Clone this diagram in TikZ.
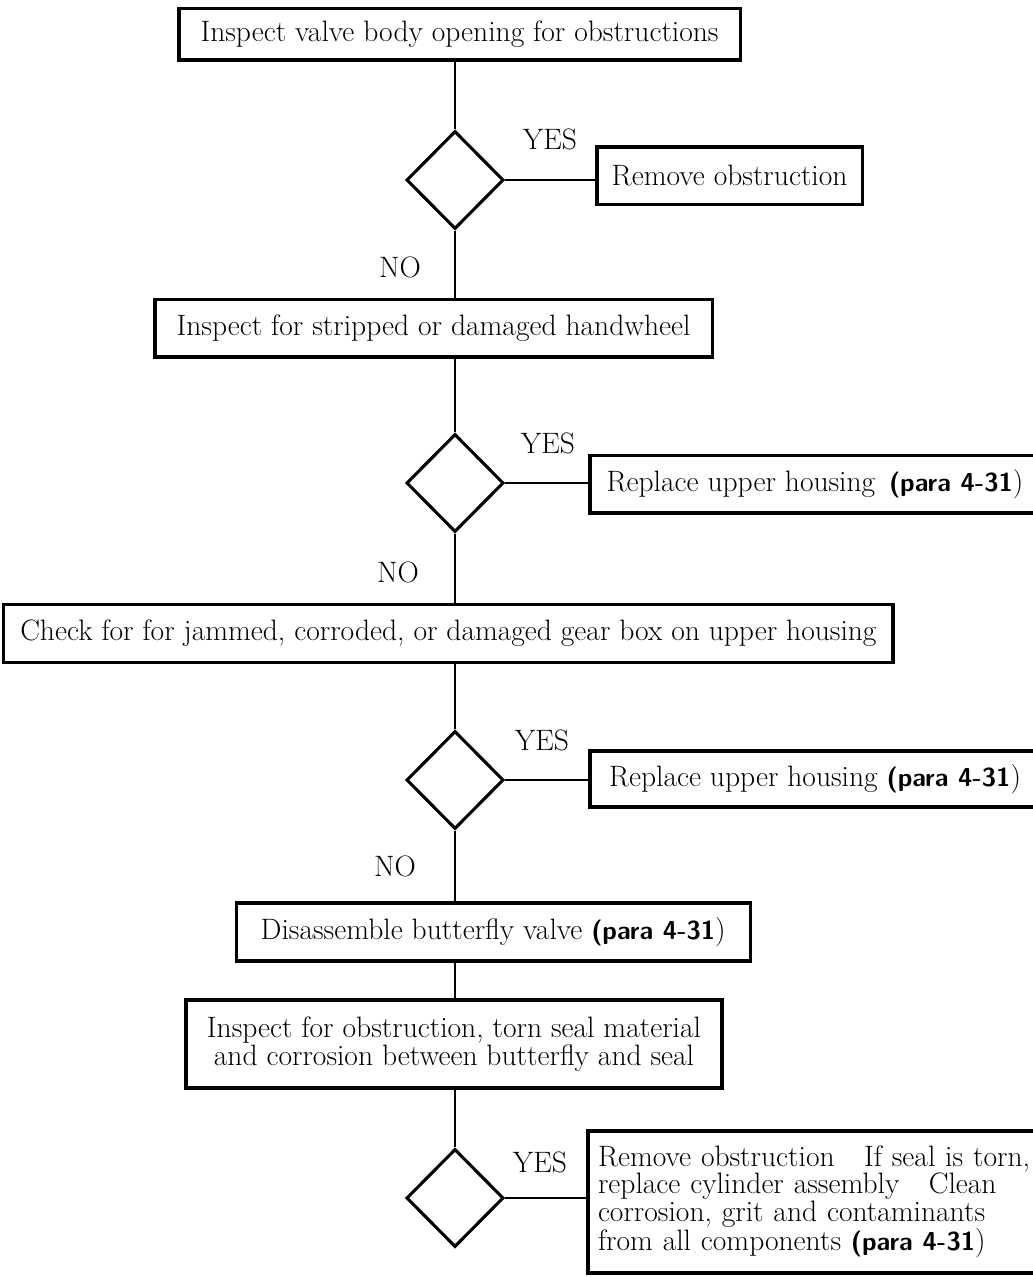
\documentclass[tikz,border=0pt]{standalone}
\usepackage{tikz}
\usetikzlibrary{positioning,shapes.geometric}
\newcommand{\pararef}{{\fontsize{18.5}{19.5}\selectfont\sffamily\bfseries (para 4-31}}

\begin{document}
\begin{tikzpicture}[
  font=\fontsize{21}{19.5}\selectfont,
  stepbox/.style={draw, line width=2.2pt, inner sep=2pt, align=center},
  decide/.style={draw, diamond, line width=2.2pt, minimum width=2.43cm,
                 minimum height=2.45cm, inner sep=0pt},
  link/.style={line width=2pt},
  lbl/.style={inner sep=0pt},
]
\useasboundingbox (0,0) rectangle (25.8,-31.925);

% --- main trunk: inspections ---
\node[stepbox, minimum width=14.03cm, minimum height=1.28cm] (b1) at (11.49,-0.86)
  {Inspect valve body opening for obstructions};
\node[decide] (d1) at (11.375,-4.5) {};
\node[stepbox, minimum width=6.63cm, minimum height=1.43cm] (r1) at (18.24,-4.39)
  {Remove obstruction};
\node[lbl] (y1) at (13.75,-3.48) {YES};
\node[lbl] (n1) at (10.0,-6.68) {NO};

\node[stepbox, minimum width=13.93cm, minimum height=1.43cm] (b2) at (10.84,-8.21)
  {Inspect for stripped or damaged handwheel};
\node[decide] (d2) at (11.375,-12.075) {};
\node[stepbox, minimum width=11.25cm, minimum height=1.43cm] (r2) at (20.375,-12.11)
  {Replace upper housing\ \,\pararef)};
\node[lbl] (y2) at (13.7,-11.08) {YES};
\node[lbl] (n2) at (9.95,-14.3) {NO};

\node[stepbox, minimum width=22.23cm, minimum height=1.45cm] (b3) at (11.21,-15.83)
  {Check for for jammed, corroded, or damaged gear box on upper housing};
\node[decide] (d3) at (11.375,-19.5) {};
\node[stepbox, minimum width=11.25cm, minimum height=1.4cm] (r3) at (20.375,-19.475)
  {Replace upper housing \pararef)};
\node[lbl] (y3) at (13.55,-18.5) {YES};
\node[lbl] (n3) at (9.875,-21.65) {NO};

% --- disassembly and last check ---
\node[stepbox, minimum width=12.85cm, minimum height=1.45cm] (b4) at (12.33,-23.3)
  {Disassemble butterfly valve \pararef)};
\node[stepbox, minimum width=13.4cm, minimum height=2.2cm] (b5) at (11.35,-26.1)
  {Inspect for obstruction, torn seal material\\and corrosion between butterfly and seal};
\node[decide] (d4) at (11.375,-29.95) {};
\node[stepbox, align=left, text width=10.8cm, minimum width=11.3cm, minimum height=3.55cm,
      inner xsep=0.2cm] (r4) at (20.35,-30.05)
  {Remove obstruction\quad If seal is torn,\\
   replace cylinder assembly\quad Clean\\
   corrosion, grit and contaminants\\
   from all components \pararef)};
\node[lbl] (y4) at (13.5,-29.05) {YES};

\draw[link] (d1.north) -- (d1.north |- b1.south);
\draw[link] (d1.east) -- (d1.east -| r1.west);
\draw[link] (d1.south) -- (d1.south |- b2.north);
\draw[link] (d2.north) -- (d2.north |- b2.south);
\draw[link] (d2.east) -- (d2.east -| r2.west);
\draw[link] (d2.south) -- (d2.south |- b3.north);
\draw[link] (d3.north) -- (d3.north |- b3.south);
\draw[link] (d3.east) -- (d3.east -| r3.west);
\draw[link] (d3.south) -- (d3.south |- b4.north);
\draw[link] (b4.south -| d4) -- (b5.north -| d4);
\draw[link] (d4.north) -- (d4.north |- b5.south);
\draw[link] (d4.east) -- (d4.east -| r4.west);
\end{tikzpicture}
\end{document}
